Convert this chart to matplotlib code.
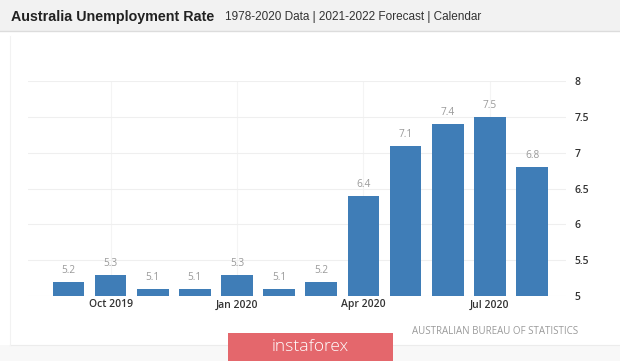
import numpy as np
import matplotlib
matplotlib.use("Agg")
import matplotlib.pyplot as plt
from matplotlib.patches import Rectangle
from matplotlib.lines import Line2D

months = ["Sep 2019", "Oct 2019", "Nov 2019", "Dec 2019", "Jan 2020", "Feb 2020",
          "Mar 2020", "Apr 2020", "May 2020", "Jun 2020", "Jul 2020", "Aug 2020"]
rate = [5.2, 5.3, 5.1, 5.1, 5.3, 5.1, 5.2, 6.4, 7.1, 7.4, 7.5, 6.8]
shown_ticks = ["Oct 2019", "Jan 2020", "Apr 2020", "Jul 2020"]
y_ticks = [5, 5.5, 6, 6.5, 7, 7.5, 8]

W, H = 620, 361
fig = plt.figure(figsize=(W / 100, H / 100), dpi=100)
fig.patch.set_facecolor("white")

def fx(px):
    return px / W

def fy(py):
    return 1 - py / H

# header bar
fig.patches.append(Rectangle((0, fy(31)), 1, 1 - fy(31), transform=fig.transFigure,
                             facecolor="#f2f2f2", edgecolor="none", zorder=0))
fig.lines.append(Line2D([0, 1], [fy(31), fy(31)], transform=fig.transFigure,
                        color="#dcdcdc", lw=1))
# bottom strip under the chart panel
fig.patches.append(Rectangle((0, 0), 1, fy(345), transform=fig.transFigure,
                             facecolor="#f8f8f8", edgecolor="none", zorder=0))
fig.lines.append(Line2D([fx(10), 1], [fy(345), fy(345)], transform=fig.transFigure,
                        color="#ececec", lw=0.8))
fig.lines.append(Line2D([fx(10), fx(10)], [fy(345), fy(36)], transform=fig.transFigure,
                        color="#f2f2f2", lw=0.8))

fig.text(fx(11), fy(17), "Australia Unemployment Rate", family="Liberation Sans",
         weight="bold", fontsize=10.3, color="#222222", va="center", ha="left")
fig.text(fx(225), fy(17), "1978-2020 Data | 2021-2022 Forecast | Calendar",
         family="Liberation Sans", fontsize=8.5, color="#333333", va="center", ha="left")

ax_left, ax_right = 28, 566
ax_top, ax_bot = 81, 296
ax = fig.add_axes([fx(ax_left), fy(ax_bot), fx(ax_right - ax_left), fy(ax_top) - fy(ax_bot)])
ax.set_facecolor("white")

x = np.arange(len(months))
x0, step = 68.4, 42.15
ax.set_xlim((ax_left - x0) / step, (ax_right - x0) / step)
ax.set_ylim(5, 8)

bars = ax.bar(x, [r - 5 for r in rate], bottom=5, width=0.75, color="#3f7db7", zorder=3)
for xi, r in zip(x, rate):
    ax.annotate(f"{r}", (xi, r), xytext=(0, 4), textcoords="offset points",
                ha="center", va="bottom", fontsize=7.3, color="#9a9a9a",
                family="Open Sans", zorder=4)

tick_pos = [months.index(m) for m in shown_ticks]
ax.set_xticks(tick_pos)
ax.set_xticklabels(["Oct 2019", "Jan 2020", "Apr 2020", "Jul 2020"], family="Open Sans",
                   fontsize=7.5, weight="semibold", color="#333333")
ax.yaxis.tick_right()
ax.set_yticks(y_ticks)
ax.set_yticklabels([f"{t:g}" for t in y_ticks], family="Open Sans", fontsize=7.5,
                   weight="semibold", color="#333333")
ax.tick_params(axis="x", length=0, pad=2.5)
ax.tick_params(axis="y", length=0, pad=6)
ax.grid(axis="y", color="#efefef", lw=0.8, zorder=0)
ax.grid(axis="x", color="#f4f4f4", lw=0.8, zorder=0)
for s in ax.spines.values():
    s.set_visible(False)

fig.text(fx(578), fy(331), "AUSTRALIAN BUREAU OF STATISTICS", family="Open Sans",
         fontsize=7, color="#9a9a9a", ha="right", va="center")

# watermark button
fig.patches.append(Rectangle((fx(228), 0), fx(393 - 228), fy(333), transform=fig.transFigure,
                             facecolor="#e4676c", edgecolor="none", zorder=5))
fig.text(fx(310), fy(347), "instaforex", family="Open Sans", fontsize=12.5,
         weight="light", color="white", ha="center", va="center", zorder=6)

fig.savefig("out.png", dpi=100)
